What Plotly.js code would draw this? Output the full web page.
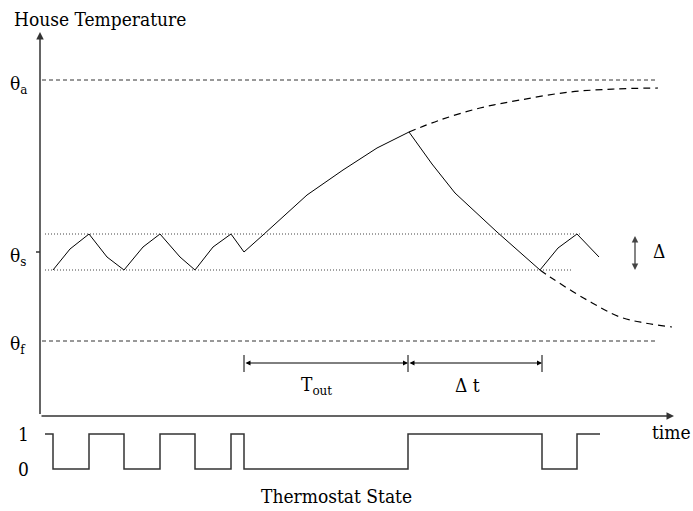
<!DOCTYPE html>
<html>
<head>
<meta charset="utf-8">
<script src="https://cdn.plot.ly/plotly-3.0.1.min.js"></script>
<style>html,body{margin:0;padding:0;background:#fff}#chart{width:693px;height:511px}</style>
</head>
<body>
<div id="chart"></div>
<script>
// ---- Diagram data (schematic units: time along x, temperature along y) ----
var tempTime = [53,70,89,107,124,143,160,180,195,213,231,244,263,307,343,377,409,432,455,497,540,558,577,599];
var tempValue = [270,249,234,257,270,247,234,257,270,247,234,252,235,195,170,148,132,164,193,232,270,248,234,257];

var riseExtTime = [409,440,480,520,570,615,658];
var riseExtValue = [132,120,108,100,92,89,88];

var fallExtTime = [540,550,587,620,645,672];
var fallExtValue = [270,277,300,317,323,327];

var thetaA = 80, thetaF = 341, thetaS = 252;
var bandHigh = 234, bandLow = 270;
var levelStart = 42, levelEnd = 655;
var bandStart = 45, bandHighEnd = 580, bandLowEnd = 572;

var switchTime = [45,53,89,124,160,195,231,244,408,542,577,600];
var switchState = [1,0,1,0,1,0,1,0,1,0,1,1];
var stateTicks = [0,1];

var toutStart = 244, toutEnd = 408, dtEnd = 542, bracketY = 363;

var axisOriginX = 40, axisOriginY = 416, axisTopY = 32, axisRightX = 674;

// ---- Traces ----
var black = '#000';
var SERIF = 'DejaVu Serif Condensed, DejaVu Serif';
var traces = [
  {x: tempTime, y: tempValue, mode: 'lines', line: {color: black, width: 1}},
  {x: riseExtTime, y: riseExtValue, mode: 'lines', line: {color: black, width: 1.2, dash: '7px,5px', shape: 'spline'}},
  {x: fallExtTime, y: fallExtValue, mode: 'lines', line: {color: black, width: 1.2, dash: '7px,5px', shape: 'spline'}},
  {x: [levelStart, levelEnd], y: [thetaA, thetaA], mode: 'lines', line: {color: '#333', width: 1, dash: '4px,3px'}},
  {x: [levelStart, levelEnd], y: [thetaF, thetaF], mode: 'lines', line: {color: '#333', width: 1, dash: '4px,3px'}},
  {x: [bandStart, bandHighEnd], y: [bandHigh, bandHigh], mode: 'lines', line: {color: '#444', width: 1, dash: '1px,2px'}},
  {x: [bandStart, bandLowEnd], y: [bandLow, bandLow], mode: 'lines', line: {color: '#444', width: 1, dash: '1px,2px'}},
  {x: [36, axisOriginX], y: [thetaS, thetaS], mode: 'lines', line: {color: black, width: 1.2}},
  {x: [toutStart, toutStart], y: [bracketY - 8, bracketY + 9], mode: 'lines', line: {color: black, width: 1}},
  {x: [toutEnd, toutEnd], y: [bracketY - 8, bracketY + 9], mode: 'lines', line: {color: black, width: 1}},
  {x: [dtEnd, dtEnd], y: [bracketY - 8, bracketY + 9], mode: 'lines', line: {color: black, width: 1}},
  {x: switchTime, y: switchState, yaxis: 'y2', mode: 'lines', line: {color: '#333', width: 1.5, shape: 'hv'}}
];

function arrow(x, y, ax, ay, side, color, width) {
  return {x: x, y: y, ax: ax, ay: ay, xref: 'x', yref: 'y', axref: 'x', ayref: 'y',
    showarrow: true, arrowhead: 2, arrowsize: 1, arrowwidth: width || 1, arrowcolor: color || black,
    arrowside: side || 'end', text: ' ', font: {size: 1}, standoff: 0, startstandoff: 0};
}
function label(text, x, y, size) {
  return {x: x, y: y, xref: 'x', yref: 'y', text: text, showarrow: false,
    font: {family: SERIF, size: size || 19, color: black},
    xanchor: 'center', yanchor: 'middle'};
}

var annotations = [
  arrow(axisOriginX, axisTopY, axisOriginX, axisOriginY, 'end', '#333', 1.5),
  arrow(axisRightX, axisOriginY, axisOriginX, axisOriginY, 'end', '#333', 1.5),
  arrow(toutEnd, bracketY, toutStart, bracketY, 'end+start', black, 1),
  arrow(dtEnd, bracketY, toutEnd, bracketY, 'end+start', black, 1),
  arrow(635, bandLow, 635, bandHigh, 'end+start', '#444', 1.3),
  label('House Temperature', 100, 19, 19),
  label('θ<sub>a</sub>', 18, 84, 19),
  label('θ<sub>s</sub>', 18, 256, 19),
  label('θ<sub>f</sub>', 18, 344, 19),
  label('Δ', 659, 251, 19),
  label('T<sub>out</sub>', 316, 385, 19),
  label('Δ t', 467, 385, 19),
  label('time', 671, 432, 19),
  label('Thermostat State', 336, 496, 19)
];
stateTicks.forEach(function (s) {
  annotations.push({x: 23, y: s, xref: 'x', yref: 'y2', text: String(s), showarrow: false,
    font: {family: SERIF, size: 19, color: black},
    xanchor: 'center', yanchor: 'middle'});
});

var layout = {
  width: 693, height: 511,
  margin: {l: 0, r: 0, t: 0, b: 0},
  paper_bgcolor: '#fff', plot_bgcolor: '#fff',
  showlegend: false,
  font: {family: SERIF},
  xaxis: {range: [0, 693], visible: false, fixedrange: true},
  yaxis: {range: [511, 0], visible: false, fixedrange: true},
  yaxis2: {range: [-1.2, 13.4], overlaying: 'y', visible: false, fixedrange: true},
  annotations: annotations
};

Plotly.newPlot('chart', traces, layout, {displayModeBar: false, staticPlot: true});
</script>
</body>
</html>
